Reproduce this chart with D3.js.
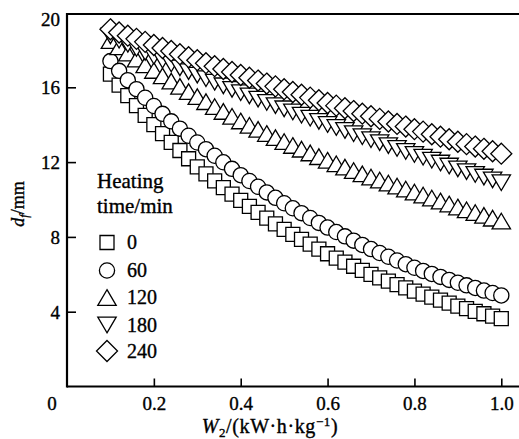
<!DOCTYPE html>
<html><head><meta charset="utf-8">
<script src="https://cdn.jsdelivr.net/npm/d3@7"></script>
<style>body{margin:0;background:#fff}</style>
</head><body><svg id="c" width="519" height="439"></svg>
<script>
// W2 (kW·h·kg^-1)
const W2 = [0.10,0.12,0.14,0.16,0.18,0.20,0.22,0.24,0.26,0.28,0.30,0.32,0.34,0.36,0.38,0.40,0.42,0.44,0.46,0.48,0.50,0.52,0.54,0.56,0.58,0.60,0.62,0.64,0.66,0.68,0.70,0.72,0.74,0.76,0.78,0.80,0.82,0.84,0.86,0.88,0.90,0.92,0.94,0.96,0.98,1.00];
// d_f (mm) per heating time
const d0 = [16.70,16.12,15.56,15.02,14.50,14.00,13.52,13.06,12.62,12.18,11.75,11.37,11.00,10.64,10.29,9.95,9.63,9.31,9.00,8.70,8.40,8.13,7.87,7.61,7.35,7.10,6.87,6.65,6.43,6.21,6.00,5.81,5.63,5.45,5.27,5.10,4.94,4.78,4.62,4.46,4.30,4.16,4.02,3.89,3.76,3.63];
const d60 = [17.40,16.88,16.38,15.90,15.44,15.00,14.58,14.18,13.79,13.41,13.05,12.69,12.34,11.99,11.64,11.30,10.99,10.68,10.38,10.09,9.80,9.53,9.27,9.01,8.75,8.50,8.26,8.03,7.80,7.57,7.35,7.14,6.94,6.74,6.54,6.35,6.18,6.02,5.86,5.70,5.55,5.41,5.27,5.13,5.00,4.87];
const d120 = [18.50,18.16,17.83,17.51,17.20,16.90,16.61,16.33,16.05,15.77,15.50,15.23,14.97,14.71,14.45,14.20,13.97,13.75,13.53,13.31,13.10,12.89,12.69,12.49,12.29,12.10,11.91,11.73,11.55,11.37,11.20,11.04,10.88,10.72,10.56,10.40,10.24,10.08,9.92,9.76,9.60,9.45,9.30,9.15,9.00,8.85];
const d180 = [18.75,18.52,18.30,18.08,17.87,17.66,17.45,17.25,17.04,16.84,16.65,16.46,16.27,16.08,15.89,15.71,15.54,15.37,15.19,15.02,14.85,14.68,14.51,14.35,14.18,14.01,13.85,13.69,13.52,13.36,13.20,13.04,12.88,12.73,12.57,12.41,12.26,12.10,11.95,11.79,11.64,11.49,11.34,11.20,11.05,10.90];
const d240 = [19.10,18.93,18.76,18.59,18.43,18.26,18.10,17.94,17.77,17.61,17.45,17.29,17.13,16.98,16.82,16.66,16.51,16.36,16.20,16.05,15.90,15.75,15.60,15.45,15.31,15.16,15.02,14.88,14.73,14.59,14.45,14.31,14.17,14.04,13.90,13.76,13.63,13.49,13.36,13.22,13.09,12.96,12.83,12.71,12.58,12.45];
const seriesLabels = ["0","60","120","180","240"];
const seriesShapes = ["square","circle","triangleUp","triangleDown","diamond"];
const xTicks = [0.2,0.4,0.6,0.8,1.0];
const yTicks = [4,8,12,16,20];

const FONT = '"Liberation Serif", "Times New Roman", Times, serif';
const series = [d0,d60,d120,d180,d240];
const svg = d3.select("#c");
const mL = 67, mR = 523, mT = 14, mB = 386.5;
const x = d3.scaleLinear().domain([0,1.05]).range([mL,mR]);
const y = d3.scaleLinear().domain([0,19.92]).range([mB,mT]);

const shapes = {
  square: "M-7,-7H7V7H-7Z",
  circle: "M7.6,0A7.6,7.6 0 1,1 -7.6,0A7.6,7.6 0 1,1 7.6,0Z",
  triangleUp: "M0,-7.8L9.2,7.8L-9.2,7.8Z",
  triangleDown: "M0,7.8L9.2,-7.8L-9.2,-7.8Z",
  diamond: "M0,-10.5L10.5,0L0,10.5L-10.5,0Z"
};

// markers
series.forEach((vals,si) => {
  svg.append("g").selectAll("path").data(vals).join("path")
    .attr("d", shapes[seriesShapes[si]])
    .attr("transform", (v,i) => `translate(${x(W2[i])},${y(v)})`)
    .attr("fill","#fff").attr("stroke","#000").attr("stroke-width",1.3);
});

// axes frame
const ax = svg.append("g");
ax.append("line").attr("x1",mL).attr("x2",519).attr("y1",mB).attr("y2",mB).attr("stroke","#000").attr("stroke-width",2.2);
ax.append("line").attr("x1",mL).attr("x2",519).attr("y1",mT).attr("y2",mT).attr("stroke","#000").attr("stroke-width",2.2);
ax.append("line").attr("x1",mL).attr("x2",mL).attr("y1",mT-1.1).attr("y2",mB+1.1).attr("stroke","#000").attr("stroke-width",2.2);

function txt(sel){ return sel.style("font-family",FONT).attr("fill","#000").attr("stroke","#000").attr("stroke-width",0.35); }

const xa = d3.axisBottom(x).tickValues(xTicks).tickSize(-8).tickPadding(14).tickFormat(d3.format(".1f"));
const gx = svg.append("g").attr("transform",`translate(0,${mB})`).call(xa);
gx.select(".domain").remove();
gx.selectAll(".tick line").attr("stroke","#000").attr("stroke-width",1.6);
txt(gx.selectAll(".tick text")).style("font-size","19px").attr("y",14).attr("dy","0.5em");

const ya = d3.axisLeft(y).tickValues(yTicks).tickSize(-9).tickPadding(7).tickFormat(d3.format("d"));
const gy = svg.append("g").attr("transform",`translate(${mL},0)`).call(ya);
gy.select(".domain").remove();
gy.selectAll(".tick line").attr("stroke","#000").attr("stroke-width",1.6).filter(d=>d===20).remove();
txt(gy.selectAll(".tick text")).style("font-size","19px").attr("dy","0.34em");
gy.selectAll(".tick").filter(d=>d===20).attr("transform","translate(0,20)");

// origin label
txt(svg.append("text")).attr("x",52).attr("y",410).attr("text-anchor","middle").style("font-size","19px").text("0");

// x title
const xt = txt(svg.append("text")).attr("x",270).attr("y",433).attr("text-anchor","middle").style("font-size","20px").attr("letter-spacing","0.6");
xt.append("tspan").attr("font-style","italic").text("W");
xt.append("tspan").style("font-size","13px").attr("dy",4).text("2");
xt.append("tspan").attr("dy",-4).text("/(kW·h·kg");
xt.append("tspan").style("font-size","13px").attr("dy",-7).text("−1");
xt.append("tspan").attr("dy",7).text(")");

// y title
const yt = txt(svg.append("text")).attr("transform","translate(24,204) rotate(-90)").attr("text-anchor","middle").style("font-size","18px");
yt.append("tspan").attr("font-style","italic").text("d");
yt.append("tspan").attr("font-style","italic").style("font-size","12px").attr("dy",4).text("f");
yt.append("tspan").attr("dy",-4).text("/mm");

// legend
const lg = svg.append("g");
txt(lg.append("text")).attr("x",97).attr("y",188).style("font-size","21px").text("Heating");
txt(lg.append("text")).attr("x",97).attr("y",213).style("font-size","21px").text("time/min");
const legY = [242.5,270.5,297.5,325,351];
seriesLabels.forEach((lab,i) => {
  lg.append("path").attr("d",shapes[seriesShapes[i]]).attr("transform",`translate(107,${legY[i]})`)
    .attr("fill","#fff").attr("stroke","#000").attr("stroke-width",1.3);
  txt(lg.append("text")).attr("x",127).attr("y",legY[i]+6.5).style("font-size","20px").text(lab);
});
</script></body></html>
